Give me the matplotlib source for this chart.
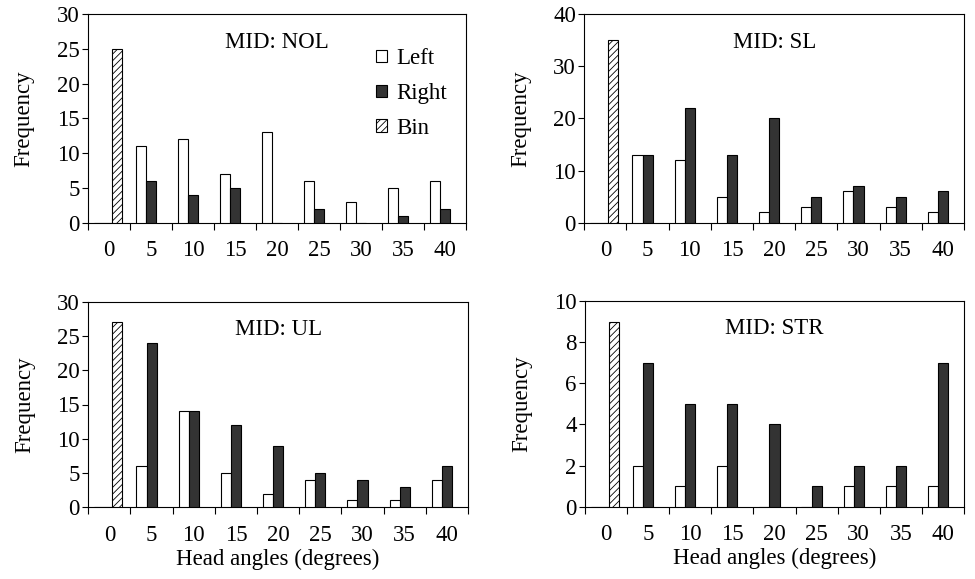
import numpy as np
import matplotlib
matplotlib.use("Agg")
from matplotlib import pyplot as plt
from matplotlib.ticker import MultipleLocator

plt.rcParams['font.family'] = ['Liberation Serif', 'DejaVu Serif']
plt.rcParams['hatch.linewidth'] = 0.6

# region Data
angles = ["0", "5", "10", "15", "20", "25", "30", "35", "40"]

nol_left = [0, 11, 12, 7, 13, 6, 3, 5, 6]
nol_right = [0, 6, 4, 5, 0, 2, 0, 1, 2]
nol_bin = 25

sl_left = [0, 13, 12, 5, 2, 3, 6, 3, 2]
sl_right = [0, 13, 22, 13, 20, 5, 7, 5, 6]
sl_bin = 35

ul_left = [0, 6, 14, 5, 2, 4, 1, 1, 4]
ul_right = [0, 24, 14, 12, 9, 5, 4, 3, 6]
ul_bin = 27

str_left = [0, 2, 1, 2, 0, 0, 1, 1, 1]
str_right = [0, 7, 5, 5, 4, 1, 2, 2, 7]
str_bin = 9
# endregion

panels = [
    ("MID: NOL", nol_left, nol_right, nol_bin, 30, 5),
    ("MID: SL", sl_left, sl_right, sl_bin, 40, 10),
    ("MID: UL", ul_left, ul_right, ul_bin, 30, 5),
    ("MID: STR", str_left, str_right, str_bin, 10, 2),
]

# axes boxes in pixels: left, right, top, bottom
boxes = [
    (88, 466, 14, 222.7),
    (584.3, 964, 14, 222.7),
    (88.3, 468, 301.7, 507.3),
    (585, 964, 301, 506.7),
]

W, H = 975, 579
fig = plt.figure(figsize=(W / 100, H / 100), dpi=100)

fs = 16.5
x = np.arange(len(angles))
bw = 0.24

for i, (title, left, right, binv, ymax, step) in enumerate(panels):
    l, r, t, b = boxes[i]
    ax = fig.add_axes([l / W, 1 - b / H, (r - l) / W, (b - t) / H])

    hl = ax.bar(x - 0.24, left, bw, color="white", edgecolor="black", linewidth=0.8, zorder=3)
    hr = ax.bar(x, right, bw, color="#333333", edgecolor="black", linewidth=0.8, zorder=3)
    hb = ax.bar([0.19], [binv], bw, color="white", edgecolor="black", hatch="/////",
                linewidth=0.8, zorder=3)

    ax.set_xlim(-0.5, 8.5)
    ax.set_ylim(0, ymax)
    ax.yaxis.set_major_locator(MultipleLocator(step))
    ax.set_xticks(np.arange(-0.5, 9, 1))
    ax.set_xticklabels([])
    ax.set_xticks(x, minor=True)
    ax.set_xticklabels(angles, minor=True)
    ax.tick_params(axis="x", which="major", direction="out", length=5, width=0.8)
    ax.tick_params(axis="x", which="minor", length=0, pad=12.5, labelsize=fs)
    ax.tick_params(axis="y", direction="out", length=4, width=0.8, pad=2, labelsize=fs)
    for sp in ax.spines.values():
        sp.set_linewidth(0.8)

    ax.text(0.5, 0.865, title, transform=ax.transAxes, ha="center", va="center", fontsize=fs)
    ax.set_ylabel("Frequency", fontsize=fs, labelpad=16)
    if i >= 2:
        ax.set_xlabel("Head angles (degrees)", fontsize=fs, labelpad=2)

    if i == 0:
        ax.legend([hl, hr, hb], ["Left", "Right", "Bin"], loc="upper left",
                  bbox_to_anchor=(0.763, 0.836), frameon=False, fontsize=fs,
                  handlelength=0.45, handleheight=0.45, handletextpad=0.4,
                  labelspacing=0.6, borderpad=0, borderaxespad=0)

fig.savefig("out.png", dpi=100)
